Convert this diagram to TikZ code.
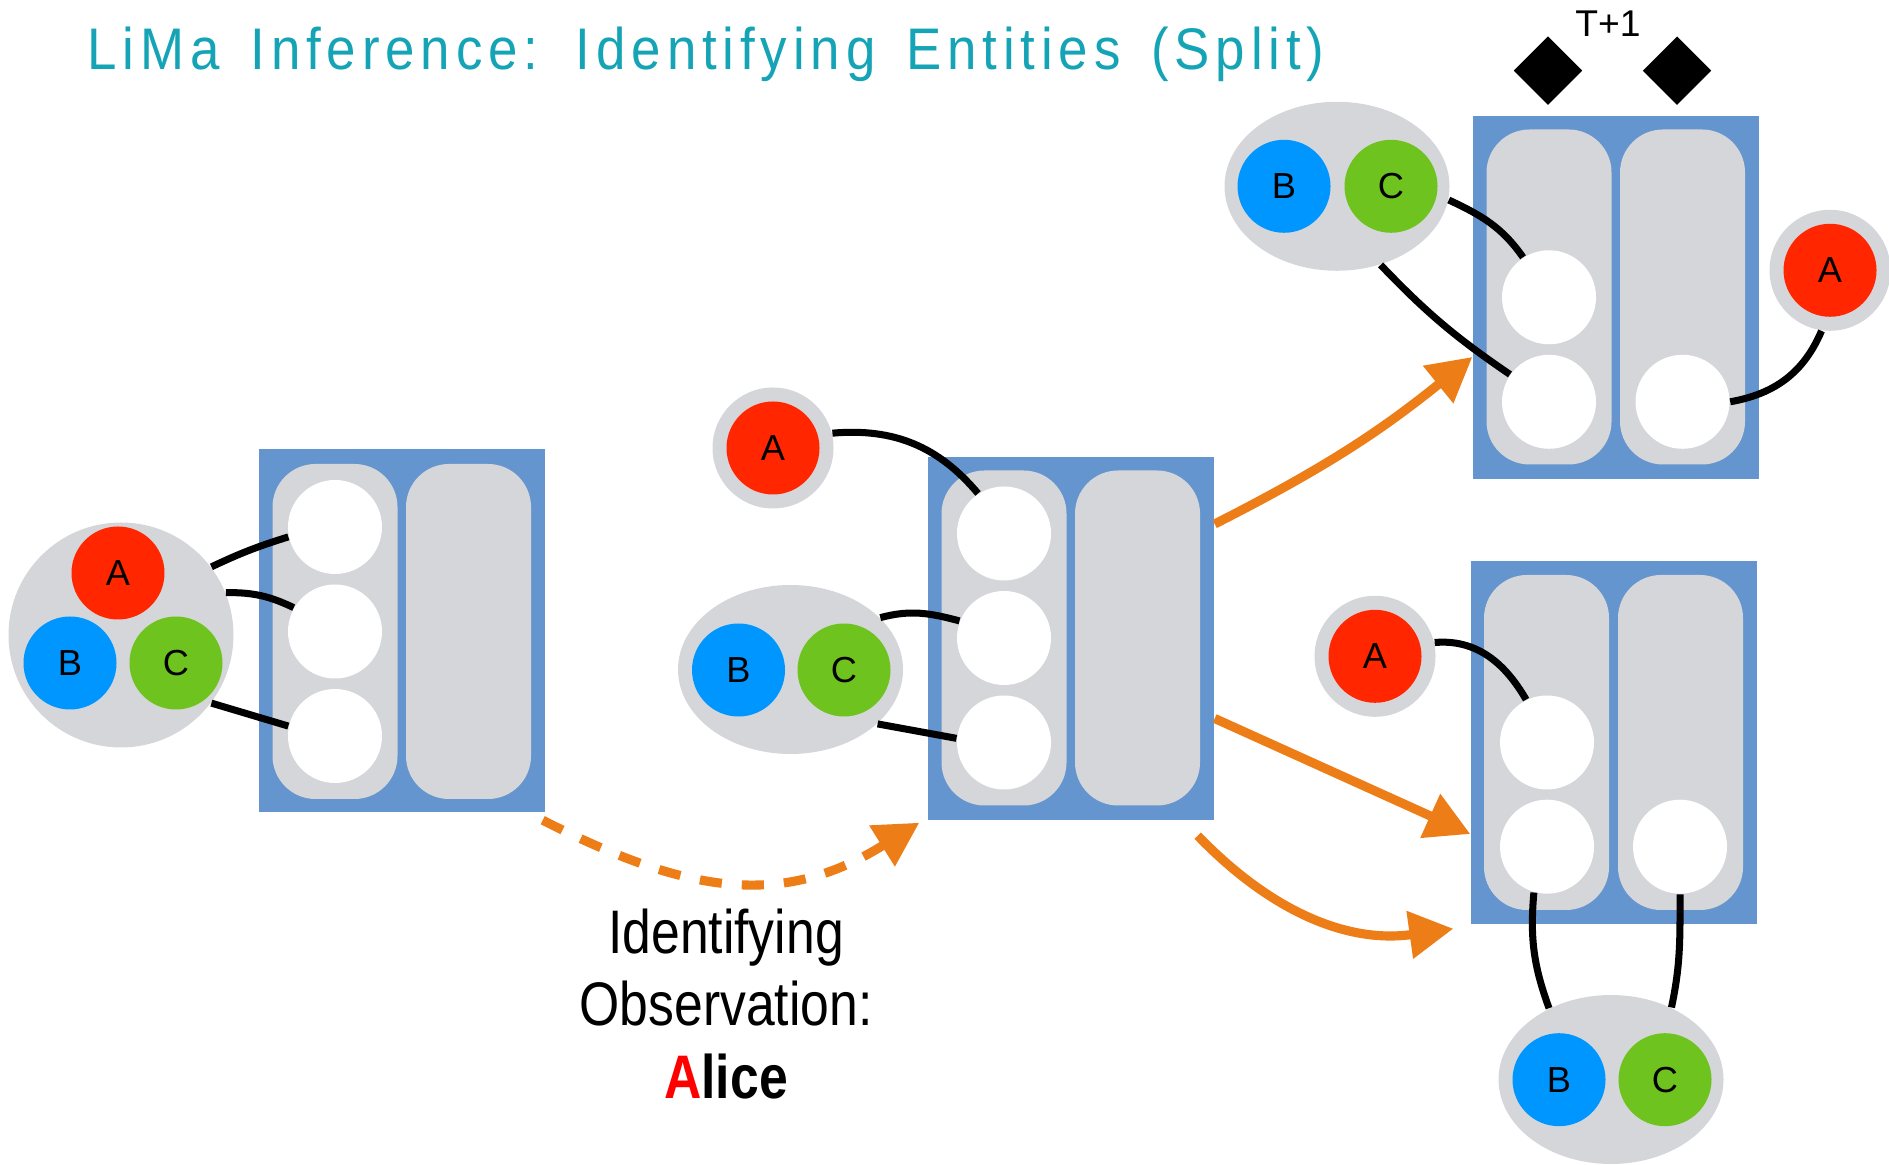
\documentclass[tikz,border=0pt]{standalone}
\usepackage{fontspec}
\setmainfont{Liberation Sans}
\newfontfamily\narrowfont[FakeStretch=0.84]{Liberation Sans}
\newfontfamily\titlefont[FakeStretch=0.9,LetterSpace=10,WordSpace=1.5]{Liberation Sans}
\usetikzlibrary{arrows.meta,positioning,shapes.geometric}
\usepackage{xcolor}
\definecolor{limateal}{RGB}{20,164,182}
\definecolor{slotblue}{RGB}{100,149,206}
\definecolor{slotgray}{RGB}{213,214,218}
\definecolor{entred}{RGB}{255,38,0}
\definecolor{entblue}{RGB}{0,150,255}
\definecolor{entgreen}{RGB}{110,195,30}
\definecolor{floworange}{RGB}{236,125,23}
\tikzset{
    slotframe/.style={
        fill=slotblue,inner sep=0,
        minimum width=2.86cm,minimum height=3.63cm
    },
    column/.style={
        fill=slotgray,rounded corners=4.3mm,inner sep=0,
        minimum width=1.25cm,minimum height=3.35cm
    },
    slot/.style={circle,fill=white,minimum size=9.4mm,inner sep=0},
    entity/.style={
        circle,fill=#1,minimum size=9.3mm,inner sep=0,
        font=\fontsize{10.3}{12}\selectfont
    },
    entity/.default=entred,
    ring/.style={circle,fill=slotgray,minimum size=12.1mm,inner sep=0},
    pair/.style={ellipse,fill=slotgray,minimum width=2.25cm,minimum height=1.69cm,inner sep=0},
    crowd/.style={circle,fill=slotgray,minimum size=2.25cm,inner sep=0},
    marker/.style={diamond,fill=black,minimum size=6.9mm,inner sep=0},
    link/.style={line width=2pt,draw=black},
    flow/.style={
        -{Triangle[length=4.4mm,width=4.6mm]},line width=2.6pt,draw=floworange
    }
}

\begin{document}
\begin{tikzpicture}
\useasboundingbox (0,0) rectangle (18.89,11.64);

\node[font=\titlefont\fontsize{16.7}{20}\selectfont,text=limateal,anchor=base west,inner sep=0]
(title) at (0.87,10.947) {LiMa Inference: Identifying Entities (Split)};

% before the observation
\node[slotframe] (old) at (4.02,5.33) {};
\node[column] (oldL) at (3.35,5.325) {};
\node[column] (oldR) at (4.685,5.325) {};
\node[slot] (old1) at (3.35,6.37) {};
\node[slot] (old2) at (3.35,5.325) {};
\node[slot] (old3) at (3.35,4.28) {};

\node[crowd] (abc) at (1.21,5.29) {};
\node[entity=entred] (abcA) at (1.18,5.91) {A};
\node[entity=entblue] (abcB) at (0.70,5.01) {B};
\node[entity=entgreen] (abcC) at (1.76,5.01) {C};

\draw[link] (abc.37) to[bend left=4] (old1.192);
\draw[link] (abc.22) to[bend left=13] (old2.150);
\draw[link] (abc.-37) -- (old3.168);

% after the observation
\node[slotframe] (mid) at (10.71,5.255) {};
\node[column] (midL) at (10.04,5.26) {};
\node[column] (midR) at (11.375,5.26) {};
\node[slot] (mid1) at (10.04,6.305) {};
\node[slot] (mid2) at (10.04,5.26) {};
\node[slot] (mid3) at (10.04,4.215) {};

\node[ring] (midAr) at (7.73,7.16) {};
\node[entity=entred] (midA) at (7.73,7.16) {A};
\node[pair] (midBC) at (7.905,4.945) {};
\node[entity=entblue] (midB) at (7.385,4.94) {B};
\node[entity=entgreen] (midC) at (8.44,4.94) {C};

\draw[link] (midAr.14) to[out=5,in=130] (mid1.123);
\draw[link] (midBC.30) to[out=15,in=165] (mid2.159);
\draw[link] (midBC.-32) -- (mid3.175);

% split, upper case
\node[slotframe] (up) at (16.16,8.665) {};
\node[column] (upL) at (15.49,8.67) {};
\node[column] (upR) at (16.825,8.67) {};
\node[slot] (up1) at (15.49,8.667) {};
\node[slot] (up2) at (15.49,7.622) {};
\node[slot] (up3) at (16.825,7.622) {};

\node[marker] (tick1) at (15.48,10.933) {};
\node[marker] (tick2) at (16.77,10.933) {};
\node[font=\fontsize{10.6}{12}\selectfont,anchor=base,inner sep=0] (tnext) at (16.08,11.27) {T+1};

\node[pair] (upBC) at (13.37,9.777) {};
\node[entity=entblue] (upB) at (12.84,9.777) {B};
\node[entity=entgreen] (upC) at (13.91,9.777) {C};
\node[ring] (upAr) at (18.30,8.937) {};
\node[entity=entred] (upA) at (18.30,8.937) {A};

\draw[link] (upBC.-7) to[out=-25,in=125] (up1.123);
\draw[link] (upBC.-61) to[bend right=6] (up2.145);
\draw[link] (up3.0) to[out=10,in=-113] (upAr.262);

% split, lower case
\node[slotframe] (down) at (16.14,4.215) {};
\node[column] (downL) at (15.465,4.215) {};
\node[column] (downR) at (16.805,4.215) {};
\node[slot] (down1) at (15.47,4.215) {};
\node[slot] (down2) at (15.47,3.173) {};
\node[slot] (down3) at (16.80,3.173) {};

\node[ring] (downAr) at (13.75,5.077) {};
\node[entity=entred] (downA) at (13.75,5.077) {A};
\node[pair] (downBC) at (16.11,0.845) {};
\node[entity=entblue] (downB) at (15.59,0.843) {B};
\node[entity=entgreen] (downC) at (16.65,0.843) {C};

\draw[link] (downAr.13) to[out=5,in=120] (down1.116);
\draw[link] (down2.254) to[out=-95,in=110] (downBC.131);
\draw[link] (down3.270) to[out=-90,in=78] (downBC.50);

% transitions
\draw[flow,dash pattern=on 6.3pt off 5.7pt]
([xshift=-0.3mm,yshift=-0.7mm]old.south east) to[out=-27,in=212,looseness=1.1]
([xshift=-0.8mm,yshift=-0.2mm]mid.south west);
\draw[flow] ([yshift=11.45mm]mid.east) to[bend right=6] ([yshift=-5.95mm]up.west);
\draw[flow] ([yshift=-8mm]mid.east) -- ([yshift=-9.15mm]down.west);
\draw[flow] ([xshift=-1.7mm,yshift=-1.5mm]mid.south east) to[out=-46,in=188]
([xshift=-1.7mm,yshift=-0.4mm]down.south west);

\node[font=\narrowfont\fontsize{17.5}{20.5}\selectfont,align=center,inner sep=0]
(obs) at (7.26,1.60)
{Identifying\\Observation:\\{\bfseries\color{red}A}{\bfseries lice}};

\end{tikzpicture}
\end{document}
